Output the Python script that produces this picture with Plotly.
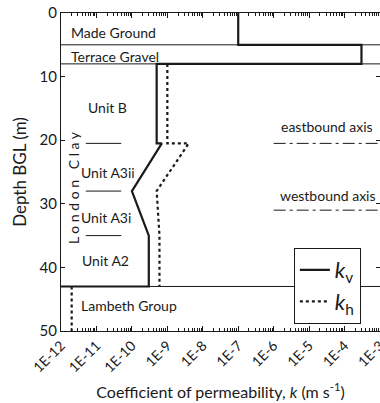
import plotly.graph_objects as go

# ---- data ----
kv_depth = [0, 5, 5, 8, 8, 20.5, 20.5, 28, 35, 43, 43]
kv_k = [1e-7, 1e-7, 3e-4, 3e-4, 5e-10, 5e-10, 7e-10, 1e-10, 3e-10, 3e-10, 1e-12]

kh_depth = [8, 20.5, 20.5, 28, 35, 43, None, 43, 50]
kh_k = [1e-9, 1e-9, 4e-9, 5e-10, 6e-10, 6e-10, None, 2e-12, 2e-12]

layer_bounds = [5, 8, 43]                 # full-width boundaries
unit_bounds = [20.5, 28, 35]              # London Clay sub-unit boundaries
unit_bound_k = [5e-12, 5e-11]
tunnel_axes = [("eastbound axis", 20.5), ("westbound axis", 31)]
tunnel_k = [1e-6, 1e-3]

tick_vals = [10.0 ** e for e in range(-12, -2)]
tick_text = ["1E%d" % e for e in range(-12, -2)]
minor_vals = [m * 10.0 ** e for e in range(-12, -3) for m in range(2, 10)]

FONT = "Lato"
INK = "#1a1a1a"

fig = go.Figure()

# boundary lines within London Clay
for d in unit_bounds:
    fig.add_trace(go.Scatter(x=unit_bound_k, y=[d, d], mode="lines",
                             line=dict(color=INK, width=1), showlegend=False,
                             hoverinfo="skip"))
# tunnel axes
for name, d in tunnel_axes:
    fig.add_trace(go.Scatter(x=tunnel_k, y=[d, d], mode="lines",
                             line=dict(color=INK, width=1, dash="12px,4px,3px,4px"),
                             showlegend=False, hoverinfo="skip"))

fig.add_trace(go.Scatter(x=kv_k, y=kv_depth, mode="lines", name="<i>k</i><sub>v</sub>",
                         line=dict(color=INK, width=2.2)))
fig.add_trace(go.Scatter(x=kh_k, y=kh_depth, mode="lines", name="<i>k</i><sub>h</sub>",
                         line=dict(color=INK, width=2.2, dash="dot"), connectgaps=False))

shapes = []
for d in layer_bounds:
    shapes.append(dict(type="line", xref="paper", x0=0, x1=1, yref="y", y0=d, y1=d,
                       line=dict(color=INK, width=1)))

ann_font = dict(family=FONT, size=14, color=INK)
annotations = [
    dict(text="Made Ground", x=0.025, y=3.0, xanchor="left"),
    dict(text="Terrace Gravel", x=0.025, y=6.8, xanchor="left"),
    dict(text="Unit B", x=0.146, y=14.8, xanchor="center"),
    dict(text="Unit A3ii", x=0.146, y=25.1, xanchor="center"),
    dict(text="Unit A3i", x=0.140, y=32.2, xanchor="center"),
    dict(text="Unit A2", x=0.140, y=38.9, xanchor="center"),
    dict(text="Lambeth Group", x=0.056, y=46.0, xanchor="left"),
    dict(text="eastbound axis", x=0.835, y=17.8, xanchor="center"),
    dict(text="westbound axis", x=0.837, y=28.7, xanchor="center"),
    dict(text="L o n d o n   C l a y", x=0.037, y=27.4, xanchor="center",
         textangle=-90),
]
for a in annotations:
    a.update(xref="paper", yref="y", yanchor="middle", showarrow=False, font=ann_font)

fig.update_layout(
    width=380, height=403,
    margin=dict(l=61, r=0, t=13, b=72, autoexpand=False),
    paper_bgcolor="white", plot_bgcolor="white",
    font=dict(family=FONT, color=INK),
    shapes=shapes, annotations=annotations,
    legend=dict(x=0.73, y=0.261, xanchor="left", yanchor="top",
                bgcolor="white", bordercolor=INK, borderwidth=1,
                font=dict(family=FONT, size=22, color=INK)),
    xaxis=dict(type="log", range=[-12, -3], tickmode="array", automargin=False,
               tickvals=tick_vals, ticktext=tick_text, tickangle=-45,
               ticklabeloverflow="allow",
               ticks="inside", ticklen=5, tickcolor=INK, mirror="ticks",
               showline=True, linecolor=INK, linewidth=1, showgrid=False,
               zeroline=False, tickfont=dict(family=FONT, size=14, color=INK),
               minor=dict(tickmode="array", tickvals=minor_vals, ticks="inside",
                          ticklen=3, tickcolor=INK, showgrid=False),
               title=dict(text="Coefficient of permeability, <i>k</i> (m s<sup>-1</sup>)",
                          font=dict(family=FONT, size=16, color=INK), standoff=12)),
    yaxis=dict(range=[50, 0], tickvals=[0, 10, 20, 30, 40, 50], automargin=False,
               ticks="inside", ticklen=4, tickcolor=INK, mirror="ticks",
               showline=True, linecolor=INK, linewidth=1, showgrid=False,
               zeroline=False, tickfont=dict(family=FONT, size=15, color=INK),
               title=dict(text="Depth BGL (m)",
                          font=dict(family=FONT, size=17, color=INK), standoff=8)),
)

fig.write_html("out.html", config={"displayModeBar": False},
               post_script="document.body.style.margin='0';")
